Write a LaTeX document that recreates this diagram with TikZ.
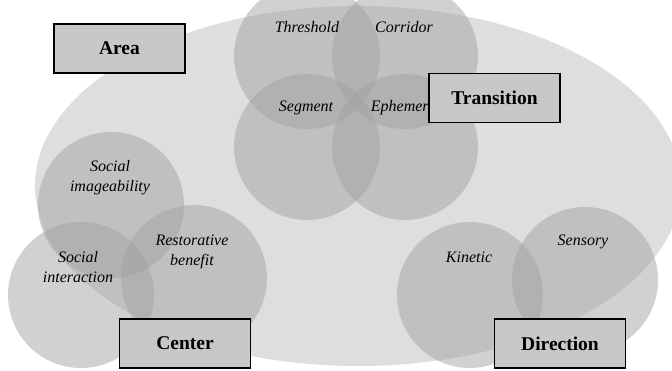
\documentclass[tikz,border=0pt]{standalone}
\usepackage{fontspec}
\setmainfont{Liberation Serif}
\definecolor{ovalgray}{HTML}{DEDEDE}
\definecolor{boxgray}{HTML}{C8C8C8}
\begin{document}
\begin{tikzpicture}[x=1pt,y=-1pt,
  zone/.style={circle, fill=black!36, fill opacity=0.5, minimum size=146pt, inner sep=0pt},
  tag/.style={font=\fontsize{16}{20}\selectfont\itshape, align=center, inner sep=0pt},
  head/.style={draw=black, line width=1.2pt, fill=boxgray, minimum width=131pt,
    minimum height=49pt, inner sep=0pt, font=\fontsize{19.5}{22}\selectfont\bfseries}]
\useasboundingbox (0,0) rectangle (672,370);
\clip (0,0) rectangle (672,370);
% background oval
\fill[ovalgray] (358,186) ellipse [x radius=323pt, y radius=180pt];
% transition group
\node[zone] (thr) at (307,56) {};
\node[zone] (cor) at (405,56) {};
\node[zone] (seg) at (307,147) {};
\node[zone] (eph) at (405,147) {};
% center group
\node[zone] (img) at (111,205) {};
\node[zone] (int) at (81,295) {};
\node[zone] (res) at (194,278) {};
% direction group
\node[zone] (kin) at (470,295) {};
\node[zone] (sen) at (585,280) {};
% circle labels
\node[tag] (tthr) at (307,27) {Threshold};
\node[tag] (tcor) at (404,27) {Corridor};
\node[tag] (tseg) at (306,108) {Segment};
\node[tag] (teph) at (406,108) {Ephemeral};
\node[tag] (timg) at (110,178) {Social\\imageability};
\node[tag] (tint) at (78,267) {Social\\interaction};
\node[tag] (tres) at (192,252) {Restorative\\benefit};
\node[tag] (tkin) at (469,257) {Kinetic};
\node[tag] (tsen) at (583,242) {Sensory};
% group headings
\node[head] (area) at (119.5,48.5) {Area};
\node[head] (trans) at (494.5,98) {Transition};
\node[head] (cent) at (185,343.5) {Center};
\node[head] (dir) at (560,343.5) {Direction};
\end{tikzpicture}
\end{document}
